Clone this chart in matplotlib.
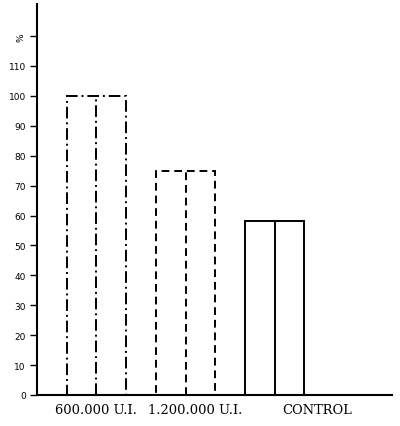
import matplotlib
matplotlib.use("Agg")
import matplotlib.pyplot as plt
from matplotlib.patches import Rectangle

categories = ["600.000 U.I.", "1.200.000 U.I.", "CONTROL"]
values = [100, 75, 58]
yticks = [0, 10, 20, 30, 40, 50, 60, 70, 80, 90, 100, 110, 120]
ytick_labels = ["0", "10", "20", "30", "40", "50", "60", "70", "80", "90", "100", "110", "%"]

styles = [(0, (6, 2, 1, 2)), (0, (4, 2.5)), "-"]
group_left = [1.0, 4.0, 7.0]
label_x = [1.97, 5.32, 9.43]

fig = plt.figure(figsize=(4.0, 4.27), dpi=100)
ax = fig.add_axes([37/400, 1-396/427, (392-37)/400, (396-5)/427])

for left, v, ls in zip(group_left, values, styles):
    ax.add_patch(Rectangle((left, 0), 2.0, v, fill=False, edgecolor="black",
                           linewidth=1.4, linestyle=ls))
    ax.vlines(left + 1.0, 0, v, colors="black", linewidth=1.4, linestyles=[ls])

ax.set_xlim(0, 11.95)
ax.set_ylim(0, 130.7)
ax.spines["top"].set_visible(False)
ax.spines["right"].set_visible(False)
ax.spines["left"].set_linewidth(1.5)
ax.spines["bottom"].set_linewidth(1.5)
ax.set_xticks([])
ax.set_yticks(yticks)
ax.set_yticklabels(ytick_labels, fontsize=6.5, family="DejaVu Sans")
ax.tick_params(axis="y", length=5, width=1, pad=3)
lbls = ax.get_yticklabels()
lbls[-1].set_rotation(90)

for x, c in zip(label_x, categories):
    ax.text(x, -2.8, c, ha="center", va="top", fontsize=9.4, family="DejaVu Serif",
            transform=ax.transData, clip_on=False)

fig.savefig("out.png", dpi=100)
